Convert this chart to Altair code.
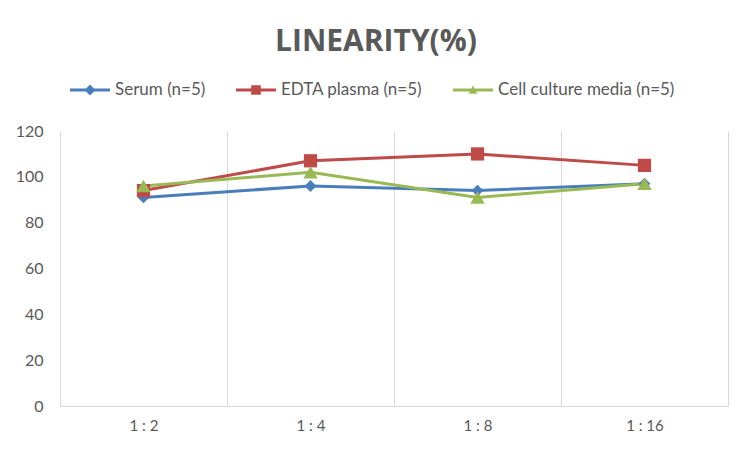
import altair as alt
import pandas as pd

dilutions = ["1 : 2", "1 : 4", "1 : 8", "1 : 16"]
series_names = ["Serum (n=5)", "EDTA plasma (n=5)", "Cell culture media (n=5)"]
serum = [91, 96, 94, 97]
edta = [94, 107, 110, 105]
cell = [96, 102, 91, 97]
colors = ["#4A7EBB", "#BE4B48", "#98B954"]

rows = []
for name, vals in zip(series_names, [serum, edta, cell]):
    for d, v in zip(dilutions, vals):
        rows.append({"dil": d, "series": name, "value": v, "order": series_names.index(name)})
df = pd.DataFrame(rows)

# legend symbols: line with marker
leg_paths = [
    "M-1,-0.07L-0.2,-0.07L0,-0.27L0.2,-0.07L1,-0.07L1,0.07L0.2,0.07L0,0.27L-0.2,0.07L-1,0.07Z",
    "M-1,-0.07L-0.24,-0.07L-0.24,-0.24L0.24,-0.24L0.24,-0.07L1,-0.07L1,0.07L0.24,0.07L0.24,0.24L-0.24,0.24L-0.24,0.07L-1,0.07Z",
    "M-1,-0.07L-0.07,-0.07L0,-0.24L0.07,-0.07L1,-0.07L1,0.07L0.16,0.07L0.21,0.19L-0.21,0.19L-0.16,0.07L-1,0.07Z",
]

FONT = "Lato"
GREY = "#595959"

x_enc = alt.X(
    "dil:N",
    sort=dilutions,
    scale=alt.Scale(type="band", paddingInner=0, paddingOuter=0),
    axis=alt.Axis(
        title=None, grid=True, gridColor="#d9d9d9", gridWidth=1, tickBand="extent",
        ticks=False, domainColor="#d9d9d9", labelColor=GREY, labelFont=FONT,
        labelFontSize=15, labelPadding=12, labelAngle=0,
    ),
)
y_enc = alt.Y(
    "value:Q",
    scale=alt.Scale(domain=[0, 120], nice=False),
    axis=alt.Axis(
        title=None, grid=False, domain=False, ticks=False, values=[0, 20, 40, 60, 80, 100, 120],
        labelColor=GREY, labelFont=FONT, labelFontSize=16, labelPadding=17,
    ),
)
color_scale = alt.Scale(domain=series_names, range=colors)

base = alt.Chart(df)

lines = base.mark_line(strokeWidth=3).encode(
    x=x_enc, y=y_enc,
    color=alt.Color("series:N", scale=color_scale, legend=None),
    order="order:Q",
)

points = base.mark_point(filled=True, opacity=1).encode(
    x=x_enc, y=y_enc,
    color=alt.Color("series:N", scale=color_scale, legend=None),
    shape=alt.Shape("series:N", scale=alt.Scale(domain=series_names, range=["diamond", "square", "triangle-up"]), legend=None),
    size=alt.Size("series:N", scale=alt.Scale(domain=series_names, range=[140, 210, 160]), legend=None),
    order="order:Q",
)

leg = alt.Legend(title=None, orient="none", legendX=10, legendY=-61,
                 direction="horizontal", symbolSize=1600, symbolOpacity=1,
                 symbolStrokeWidth=0, labelFont=FONT, labelFontSize=17,
                 labelColor=GREY, labelOffset=5, columnPadding=30, labelLimit=400)

legend_layer = base.mark_point(filled=True, opacity=0, size=1600).encode(
    x=x_enc, y=y_enc,
    color=alt.Color("series:N", scale=color_scale, sort=series_names, legend=leg),
    shape=alt.Shape("series:N", scale=alt.Scale(domain=series_names, range=leg_paths), sort=series_names,
                    legend=leg),
)

chart = alt.layer(lines, points, legend_layer).resolve_scale(
    color="independent", shape="independent"
).properties(
    width=668,
    height=275,
    title=alt.TitleParams("LINEARITY(%)", font="Open Sans", fontSize=30, fontWeight="bold",
                          color=GREY, anchor="middle", frame="group", dx=-18, offset=13),
    autosize=alt.AutoSizeParams(type="none"),
    padding={"left": 52, "top": 123, "right": 16, "bottom": 30},
    background="white",
).configure_view(stroke=None)

chart.save("out.html", embed_options={"renderer": "svg", "actions": False})
